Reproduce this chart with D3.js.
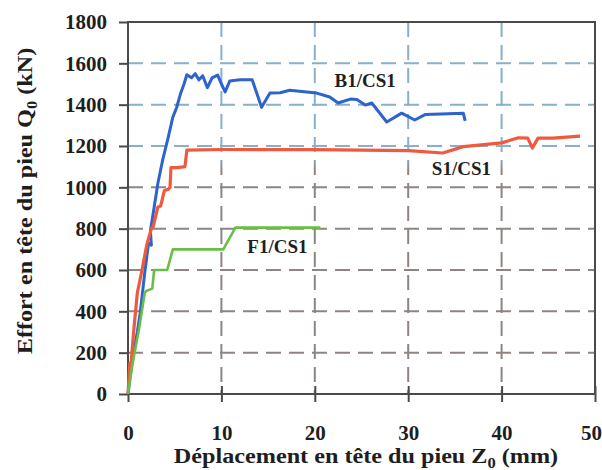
<!DOCTYPE html>
<html>
<head>
<meta charset="utf-8">
<script src="https://cdn.jsdelivr.net/npm/d3@7"></script>
<style>
  body { margin: 0; background: #fff; }
  svg { display: block; font-family: 'Liberation Serif', 'Times New Roman', serif; font-weight: bold; }
</style>
</head>
<body>
<svg id="chart" width="602" height="470"></svg>
<script>
// tick values
const xTicks = [0, 10, 20, 30, 40, 50]
const yTicks = [0, 200, 400, 600, 800, 1000, 1200, 1400, 1600, 1800]

// B1/CS1 (mm, kN)
const b1Disp = [0, 0.3, 0.6, 1.0, 1.3, 1.8, 2.2, 2.5, 2.4, 2.7, 3.2, 3.7, 4.3, 4.8, 5.2, 5.6, 6.0, 6.3, 6.8, 7.2, 7.6, 8.0, 8.5, 9.0, 9.6, 10.0, 10.4, 10.9, 12.0, 13.3, 14.3, 15.2, 16.3, 17.3, 20.2, 21.6, 22.5, 23.8, 24.5, 25.4, 26.1, 27.7, 29.3, 30.7, 31.8, 33.5, 35.9, 36.1]
const b1Load = [0, 110, 200, 300, 390, 590, 730, 720, 790, 875, 1020, 1130, 1240, 1340, 1385, 1450, 1500, 1545, 1530, 1550, 1520, 1540, 1482, 1530, 1543, 1500, 1462, 1515, 1520, 1520, 1387, 1456, 1458, 1470, 1456, 1437, 1408, 1427, 1425, 1398, 1408, 1316, 1359, 1326, 1352, 1355, 1359, 1322]

// S1/CS1
const s1Disp = [0, 0.2, 0.3, 0.6, 1.0, 1.5, 2.0, 2.5, 2.7, 3.2, 3.5, 3.9, 4.3, 4.5, 4.6, 5.3, 6.1, 6.3, 10, 20, 30, 33.7, 35.9, 40.0, 41.8, 42.8, 43.3, 43.9, 45.5, 48.4]
const s1Load = [0, 150, 130, 300, 490, 600, 720, 800, 810, 905, 910, 985, 990, 1000, 1095, 1095, 1100, 1180, 1183, 1182, 1178, 1166, 1197, 1215, 1240, 1238, 1190, 1238, 1238, 1248]

// F1/CS1
const f1Disp = [0, 0.5, 1.2, 1.8, 2.0, 2.6, 2.8, 4.2, 4.8, 10.2, 11.5, 20.6]
const f1Load = [0, 150, 320, 490, 500, 510, 600, 600, 700, 700, 805, 805]

const series = [
  {name: 'B1/CS1', disp: b1Disp, load: b1Load, color: '#2c63cc', width: 3, label: [25.4, 1485]},
  {name: 'S1/CS1', disp: s1Disp, load: s1Load, color: '#ef5a3e', width: 3.2, label: [35.7, 1060]},
  {name: 'F1/CS1', disp: f1Disp, load: f1Load, color: '#69bf46', width: 2.6, label: [16.0, 682]}
]

const svg = d3.select('#chart')
const x = d3.scaleLinear().domain([0, 50]).range([128, 595])
const y = d3.scaleLinear().domain([0, 1800]).range([394, 22])

// the scan tints the upper grid bluish and the lower grid grey
const grad = svg.append('defs').append('linearGradient')
  .attr('id', 'gridFade')
  .attr('gradientUnits', 'userSpaceOnUse')
  .attr('x1', 0).attr('x2', 0).attr('y1', y(1800)).attr('y2', y(0))
grad.append('stop').attr('offset', '0%').attr('stop-color', '#86b0cc')
grad.append('stop').attr('offset', '36%').attr('stop-color', '#86b0cc')
grad.append('stop').attr('offset', '40%').attr('stop-color', '#8e8482')
grad.append('stop').attr('offset', '100%').attr('stop-color', '#8e8482')

const grid = svg.append('g').attr('class', 'grid')
grid.selectAll('line.h')
  .data(yTicks.slice(1, -1))
  .enter().append('line')
  .attr('class', 'h')
  .attr('x1', x(0)).attr('x2', x(50))
  .attr('y1', d => y(d)).attr('y2', d => y(d))
  .attr('stroke', d => d >= 1200 ? '#86b0cc' : '#8e8482')
  .attr('stroke-width', 2)
  .attr('stroke-dasharray', '15,8')

grid.selectAll('line.v')
  .data(xTicks.slice(1, -1))
  .enter().append('line')
  .attr('class', 'v')
  .attr('x1', d => x(d)).attr('x2', d => x(d))
  .attr('y1', y(1800)).attr('y2', y(0))
  .attr('stroke', 'url(#gridFade)')
  .attr('stroke-width', 2)
  .attr('stroke-dasharray', '15,8')

// axes
const yAxis = svg.append('g')
  .attr('transform', 'translate(' + x(0) + ',0)')
  .call(d3.axisLeft(y).tickValues(yTicks).tickFormat(d3.format('d'))
    .tickSizeInner(9).tickSizeOuter(0).tickPadding(12))
const xAxis = svg.append('g')
  .attr('transform', 'translate(0,' + y(0) + ')')
  .call(d3.axisBottom(x).tickValues(xTicks).tickFormat(d3.format('d'))
    .tickSizeInner(8).tickSizeOuter(0).tickPadding(23))

for (const ax of [xAxis, yAxis]) {
  ax.select('.domain').remove()
  ax.attr('font-family', null).attr('font-size', null)
  ax.selectAll('line').attr('stroke', '#4a4a4a').attr('stroke-width', 2)
  ax.selectAll('text').attr('fill', '#1e1e1e').style('font-size', '21px')
}
xAxis.selectAll('.tick line').attr('y1', -8)
// last label sits on the page edge, nudge it in
xAxis.selectAll('.tick text').filter(d => d === 50).attr('dx', -4)

// frame
svg.append('rect')
  .attr('x', x(0)).attr('y', y(1800))
  .attr('width', x(50) - x(0)).attr('height', y(0) - y(1800))
  .attr('fill', 'none')
  .attr('stroke', '#4a4a4a')
  .attr('stroke-width', 2)

// curves
const line = d3.line().x(d => x(d[0])).y(d => y(d[1]))
svg.append('g').selectAll('path')
  .data(series)
  .enter().append('path')
  .attr('d', s => line(d3.zip(s.disp, s.load)))
  .attr('fill', 'none')
  .attr('stroke', s => s.color)
  .attr('stroke-width', s => s.width)
  .attr('stroke-linejoin', 'round')

svg.append('g').selectAll('text')
  .data(series)
  .enter().append('text')
  .attr('x', s => x(s.label[0]))
  .attr('y', s => y(s.label[1]))
  .attr('text-anchor', 'middle')
  .attr('fill', '#1e1e1e')
  .style('font-size', '19px')
  .text(s => s.name)

// axis titles
const xTitle = svg.append('text')
  .attr('transform', 'translate(366,463) scale(1.1,1)')
  .attr('text-anchor', 'middle')
  .attr('fill', '#1e1e1e')
  .style('font-size', '22px')
xTitle.append('tspan').text('Déplacement en tête du pieu Z')
xTitle.append('tspan').attr('dy', 5).style('font-size', '15px').text('0')
xTitle.append('tspan').attr('dy', -5).text(' (mm)')

const yTitle = svg.append('text')
  .attr('transform', 'translate(32,201) rotate(-90) scale(1.1,1)')
  .attr('text-anchor', 'middle')
  .attr('fill', '#1e1e1e')
  .style('font-size', '22px')
yTitle.append('tspan').text('Effort en tête du pieu Q')
yTitle.append('tspan').attr('dy', 5).style('font-size', '15px').text('0')
yTitle.append('tspan').attr('dy', -5).text(' (kN)')
</script>
</body>
</html>
